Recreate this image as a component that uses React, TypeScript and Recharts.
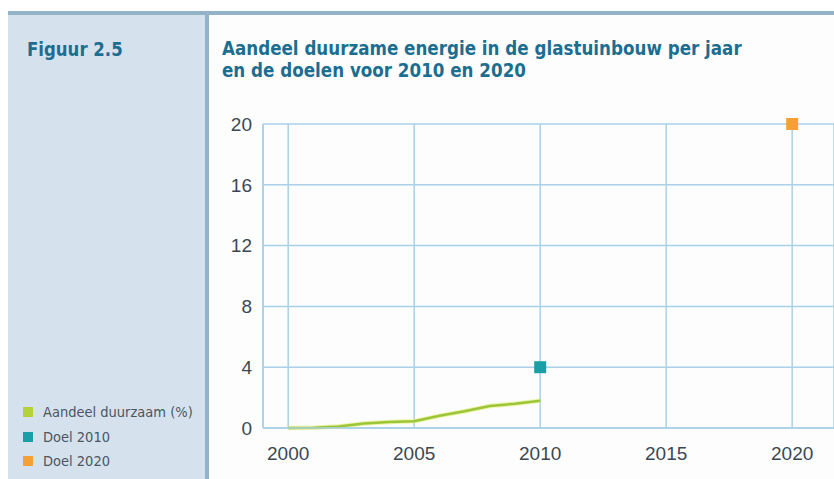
import {
  CartesianGrid,
  ComposedChart,
  Line,
  Scatter,
  XAxis,
  YAxis,
  ZAxis,
} from "recharts";

const years = [2000, 2001, 2002, 2003, 2004, 2005, 2006, 2007, 2008, 2009, 2010];
const aandeel = [0, 0.02, 0.1, 0.3, 0.4, 0.45, 0.8, 1.1, 1.45, 1.6, 1.8];
const doel2010 = [{ year: 2010, value: 4 }];
const doel2020 = [{ year: 2020, value: 20 }];
const xTicks = [2000, 2005, 2010, 2015, 2020];
const yTicks = [0, 4, 8, 12, 16, 20];

const legendItems = [
  { label: "Aandeel duurzaam (%)", color: "#b3d23c" },
  { label: "Doel 2010", color: "#1b9fa6" },
  { label: "Doel 2020", color: "#f5a035" },
];

const lineData = years.map((year, i) => ({ year, aandeel: aandeel[i] }));

const gridColor = "#a9d1e7";
const tickColor = "#3b4852";
const headFont = "'DejaVu Sans Condensed', 'Liberation Sans', Arial, sans-serif";

export default function App() {
  return (
    // fixed to the viewport so everything is placed in page pixels
    <div
      style={{
        position: "fixed",
        left: 0,
        top: 0,
        width: 834,
        height: 479,
        overflow: "hidden",
        background: "#ffffff",
      }}
    >
      <div
        style={{
          position: "absolute",
          left: 8,
          top: 11,
          width: 826,
          height: 4,
          background: "#93b3c9",
        }}
      />
      <div
        style={{
          position: "absolute",
          left: 8,
          top: 15,
          width: 197,
          height: 464,
          background: "#d5e2ee",
          borderRight: "4px solid #8fb4cc",
        }}
      />
      <div
        style={{
          position: "absolute",
          left: 209,
          top: 15,
          width: 625,
          height: 464,
          background: "#fdfdfe",
        }}
      />
      <div
        style={{
          position: "absolute",
          left: 27,
          top: 37,
          fontFamily: headFont,
          fontWeight: 700,
          fontSize: 20,
          color: "#1c6e91",
          transform: "scaleX(0.92)",
          transformOrigin: "left top",
          whiteSpace: "nowrap",
        }}
      >
        Figuur 2.5
      </div>
      <div
        style={{
          position: "absolute",
          left: 222,
          top: 37,
          fontFamily: headFont,
          fontWeight: 700,
          fontSize: 20,
          lineHeight: "22px",
          color: "#1c6e91",
          transform: "scaleX(0.93)",
          transformOrigin: "left top",
          whiteSpace: "nowrap",
        }}
      >
        Aandeel duurzame energie in de glastuinbouw per jaar
        <br />
        en de doelen voor 2010 en 2020
      </div>

      <div style={{ position: "absolute", left: 23, top: 400 }}>
        {legendItems.map((item) => (
          <div
            key={item.label}
            style={{
              display: "flex",
              alignItems: "center",
              height: 24.5,
              fontFamily: headFont,
              fontSize: 14.5,
              color: "#4a5660",
              whiteSpace: "nowrap",
            }}
          >
            <span
              style={{
                width: 10,
                height: 10,
                background: item.color,
                marginRight: 10,
                flexShrink: 0,
              }}
            />
            {item.label}
          </div>
        ))}
      </div>

      <div style={{ position: "absolute", left: 209, top: 108 }}>
        <ComposedChart
          width={625}
          height={371}
          data={lineData}
          margin={{ top: 16, right: 0, bottom: 0, left: 0 }}
        >
          <CartesianGrid stroke={gridColor} strokeWidth={1.5} />
          <XAxis
            dataKey="year"
            type="number"
            domain={[1999, 2021.66]}
            ticks={xTicks}
            allowDataOverflow
            height={51}
            tickSize={0}
            tickMargin={19}
            axisLine={{ stroke: gridColor, strokeWidth: 1.5 }}
            tick={{ fill: tickColor, fontSize: 19, fontFamily: "Liberation Sans, Arial" }}
          />
          <YAxis
            type="number"
            domain={[0, 20]}
            ticks={yTicks}
            width={54}
            tickSize={0}
            tickMargin={11}
            axisLine={{ stroke: gridColor, strokeWidth: 1.5 }}
            tick={{ fill: tickColor, fontSize: 19, fontFamily: "Liberation Sans, Arial" }}
          />
          <ZAxis range={[144, 144]} />
          <Line
            dataKey="aandeel"
            stroke="#e4ec6a"
            strokeWidth={4.5}
            strokeOpacity={0.6}
            dot={false}
            legendType="none"
            isAnimationActive={false}
          />
          <Line
            dataKey="aandeel"
            stroke="#9cc63a"
            strokeWidth={2.5}
            dot={false}
            isAnimationActive={false}
          />
          <Scatter
            data={doel2010}
            dataKey="value"
            fill="#1b9fa6"
            shape="square"
            isAnimationActive={false}
          />
          <Scatter
            data={doel2020}
            dataKey="value"
            fill="#f5a035"
            shape="square"
            isAnimationActive={false}
          />
        </ComposedChart>
      </div>
    </div>
  );
}
